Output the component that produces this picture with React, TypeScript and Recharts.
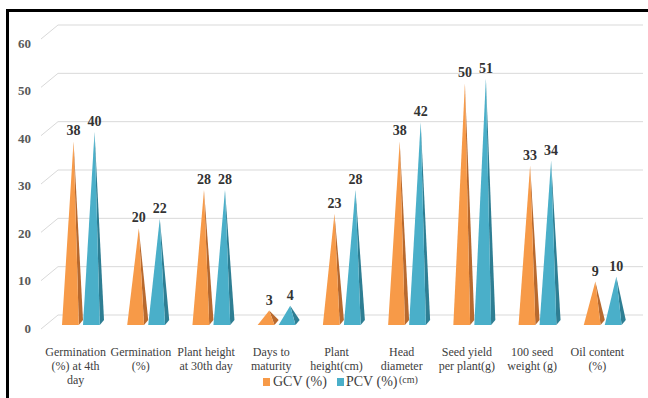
import React from 'react'
import { BarChart, Bar, XAxis, YAxis, CartesianGrid, Legend, LabelList } from 'recharts'

const categories = [
  'Germination\n(%) at 4th\nday',
  'Germination\n(%)',
  'Plant height\nat 30th day',
  'Days to\nmaturity',
  'Plant\nheight(cm)',
  'Head\ndiameter',
  'Seed yield\nper plant(g)',
  '100 seed\nweight (g)',
  'Oil content\n(%)',
]
const gcvValues = [38, 20, 28, 3, 23, 38, 50, 33, 9]
const pcvValues = [40, 22, 28, 4, 28, 42, 51, 34, 10]
const yTicks = [0, 10, 20, 30, 40, 50, 60]

const FONT = 'Liberation Serif'

const COLORS = {
  gcv: { front: '#F79A48', side: '#B8692E' },
  pcv: { front: '#4AAFC9', side: '#2E7E93' },
}

const data = categories.map((name, i) => ({ name, gcv: gcvValues[i], pcv: pcvValues[i] }))

// cone-like 3D pyramid: lit front face + darker side face
function Pyramid(props: any) {
  const { x, y, width, height, front, side } = props
  if (!height || height <= 0) return null
  const base = y + height
  const apexX = x + width * 0.55
  const edge = x + width * 0.8
  return (
    <g>
      <polygon points={`${edge},${base} ${x + width},${base - 5} ${apexX},${y}`} fill={side} />
      <polygon points={`${x},${base} ${edge},${base} ${apexX},${y}`} fill={front} />
    </g>
  )
}

const renderValue = (props: any) => {
  const { x, y, width, value } = props
  return (
    <text x={x + width * 0.55} y={y - 6} textAnchor="middle" style={{ fontFamily: FONT, fontWeight: 'bold', fontSize: 14 }} fill="#333">
      {value}
    </text>
  )
}

const XTick = (props: any) => {
  const { x, y, payload } = props
  const lines = String(payload.value).split('\n')
  return (
    <text x={x - 7} y={y} textAnchor="middle" style={{ fontFamily: FONT, fontSize: 12 }} fill="#404040">
      {lines.map((l, i) => (
        <tspan key={i} x={x - 7} dy={i === 0 ? 23 : 14}>{l}</tspan>
      ))}
    </text>
  )
}

// labels sit on the front plane, a little below the back-wall gridlines
const YTick = (props: any) => {
  const { y, payload } = props
  return (
    <text x={31} y={y + 3 + payload.value / 12} dy="0.355em" textAnchor="end" style={{ fontFamily: FONT, fontWeight: 'bold', fontSize: 13 }} fill="#595959">
      {payload.value}
    </text>
  )
}

const gridLine = (props: any) => {
  const { y1, x2 } = props
  return (
    <g key={`g-${y1}`}>
      <line x1={41} y1={y1 + 4} x2={58} y2={y1 - 10} stroke="#d9d9d9" />
      <line x1={58} y1={y1 - 10} x2={x2 + 6} y2={y1 - 10} stroke="#d9d9d9" />
    </g>
  )
}

const renderLegend = () => (
  <div style={{ position: 'relative', height: 20, fontFamily: FONT, fontSize: 14, color: '#404040' }}>
    <span style={{ position: 'absolute', left: 263, top: 5, width: 7, height: 8, background: COLORS.gcv.front }} />
    <span style={{ position: 'absolute', left: 273, top: 0, lineHeight: '18px' }}>GCV (%)</span>
    <span style={{ position: 'absolute', left: 337, top: 5, width: 7, height: 8, background: COLORS.pcv.front }} />
    <span style={{ position: 'absolute', left: 346, top: 0, lineHeight: '18px' }}>PCV (%)</span>
    <span style={{ position: 'absolute', left: 399, top: 1, fontSize: 10, lineHeight: '11px' }}>(cm)</span>
  </div>
)

export default function App() {
  return (
    <div style={{ position: 'absolute', left: 0, top: 0, width: 648, height: 398, background: '#fff', overflow: 'hidden' }}>
      <div style={{ position: 'absolute', left: 6, top: 9, right: 0, bottom: 0, borderLeft: '3px solid #000', borderTop: '3px solid #000' }} />
      <div style={{ position: 'absolute', left: 0, top: 0 }}>
        <BarChart width={648} height={398} data={data} margin={{ top: 35, right: 11, bottom: 5, left: 10 }} barSize={21} barGap={0}>
          <CartesianGrid vertical={false} horizontal={gridLine} />
          <XAxis dataKey="name" axisLine={false} tickLine={false} interval={0} tick={<XTick />} height={48} />
          <YAxis domain={[0, 60]} ticks={yTicks} axisLine={false} tickLine={false} tick={<YTick />} width={40} />
          <Legend verticalAlign="bottom" content={renderLegend} wrapperStyle={{ left: 0, width: 648, height: 20 }} />
          <Bar dataKey="gcv" name="GCV (%)" fill={COLORS.gcv.front} isAnimationActive={false}
            shape={(p: any) => <Pyramid {...p} front={COLORS.gcv.front} side={COLORS.gcv.side} />}>
            <LabelList dataKey="gcv" content={renderValue} />
          </Bar>
          <Bar dataKey="pcv" name="PCV (%)" fill={COLORS.pcv.front} isAnimationActive={false}
            shape={(p: any) => <Pyramid {...p} front={COLORS.pcv.front} side={COLORS.pcv.side} />}>
            <LabelList dataKey="pcv" content={renderValue} />
          </Bar>
        </BarChart>
      </div>
    </div>
  )
}
